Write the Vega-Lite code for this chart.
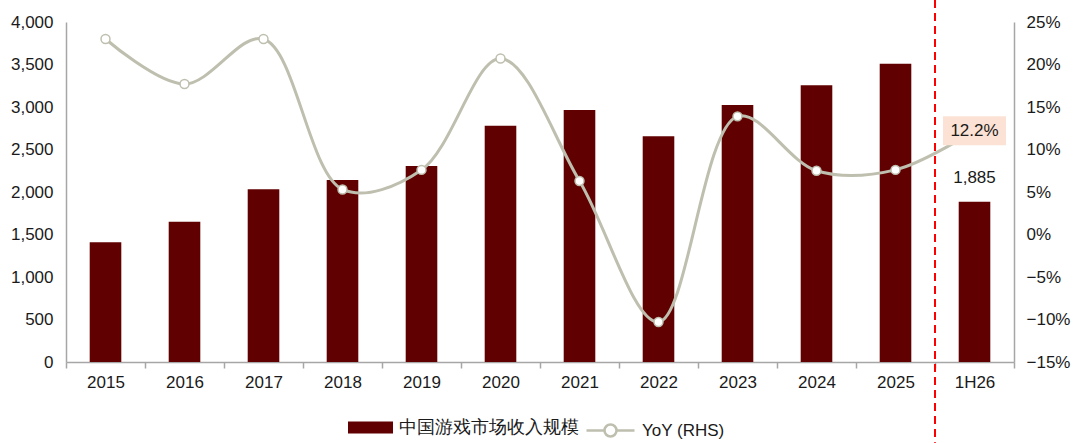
{
  "$schema": "https://vega.github.io/schema/vega-lite/v6.json",
  "width": 948,
  "height": 340,
  "autosize": "none",
  "padding": {"left": 66, "top": 22, "right": 66, "bottom": 81},
  "background": "white",
  "config": {
    "font": "Liberation Sans",
    "view": {"stroke": null},
    "axis": {
      "labelFont": "Liberation Sans",
      "labelFontSize": 17,
      "labelColor": "#1a1a1a",
      "domainColor": "#a6a6a6",
      "domainWidth": 1.5,
      "tickColor": "#a6a6a6",
      "tickWidth": 1.5,
      "grid": false,
      "title": null
    },
    "legend": {
      "labelFont": "Liberation Sans",
      "labelFontSize": 17,
      "labelColor": "#1a1a1a",
      "labelLimit": 400
    }
  },
  "datasets": {
    "games": [
      {"period": "2015", "revenue": 1408, "yoy": 0.230},
      {"period": "2016", "revenue": 1651, "yoy": 0.177},
      {"period": "2017", "revenue": 2031, "yoy": 0.230},
      {"period": "2018", "revenue": 2141, "yoy": 0.053},
      {"period": "2019", "revenue": 2306, "yoy": 0.076},
      {"period": "2020", "revenue": 2780, "yoy": 0.207},
      {"period": "2021", "revenue": 2965, "yoy": 0.063},
      {"period": "2022", "revenue": 2655, "yoy": -0.103},
      {"period": "2023", "revenue": 3024, "yoy": 0.139},
      {"period": "2024", "revenue": 3255, "yoy": 0.075},
      {"period": "2025", "revenue": 3510, "yoy": 0.076},
      {"period": "1H26", "revenue": 1885, "yoy": 0.122}
    ]
  },
  "data": {"name": "games"},
  "encoding": {
    "x": {
      "field": "period",
      "type": "ordinal",
      "sort": null,
      "scale": {"paddingInner": 0, "paddingOuter": 0},
      "axis": {
        "labelAngle": 0,
        "tickBand": "extent",
        "tickSize": 6,
        "labelPadding": 6
      }
    }
  },
  "layer": [
    {
      "encoding": {
        "y": {
          "field": "revenue",
          "type": "quantitative",
          "scale": {"domain": [0, 4000], "nice": false},
          "axis": {
            "orient": "left",
            "values": [0, 500, 1000, 1500, 2000, 2500, 3000, 3500, 4000],
            "format": ",.0f",
            "ticks": false,
            "labelPadding": 13
          }
        }
      },
      "layer": [
        {
          "mark": {"type": "bar", "width": {"band": 0.4}},
          "encoding": {
            "fill": {
              "datum": "中国游戏市场收入规模",
              "scale": {"range": ["#600000"]},
              "legend": {
                "title": null,
                "orient": "none",
                "legendX": 282,
                "legendY": 383,
                "symbolType": "M-1,-0.27L1,-0.27L1,0.27L-1,0.27Z",
                "symbolSize": 2025,
                "symbolStrokeWidth": 0,
                "symbolOpacity": 1,
                "labelOffset": 6,
                "labelFontSize": 18
              }
            }
          }
        },
        {
          "transform": [{"filter": "datum.period == '1H26'"}],
          "mark": {"type": "rule", "color": "#ff0000", "strokeWidth": 2, "strokeDash": [8, 5]},
          "encoding": {
            "x": {"field": "period", "type": "ordinal", "sort": null, "bandPosition": 0},
            "y": {"datum": 4260},
            "y2": {"datum": -950}
          }
        },
        {
          "transform": [{"filter": "datum.period == '1H26'"}],
          "mark": {"type": "text", "fontSize": 17, "color": "#1a1a1a", "baseline": "middle", "dy": -24},
          "encoding": {
            "text": {"field": "revenue", "type": "quantitative", "format": ",.0f"}
          }
        },
        {
          "data": {"values": [{"label": "(亿元)"}]},
          "mark": {"type": "text", "fontSize": 17, "color": "#1a1a1a", "align": "left", "baseline": "middle", "dx": -3},
          "encoding": {
            "x": {"datum": "2015"},
            "y": {"datum": 3941},
            "text": {"field": "label"}
          }
        }
      ]
    },
    {
      "encoding": {
        "y": {
          "field": "yoy",
          "type": "quantitative",
          "scale": {"domain": [-0.15, 0.25], "nice": false},
          "axis": {
            "orient": "right",
            "values": [-0.15, -0.1, -0.05, 0, 0.05, 0.1, 0.15, 0.2, 0.25],
            "format": ".0%",
            "ticks": false,
            "labelPadding": 12
          }
        }
      },
      "layer": [
        {
          "mark": {"type": "line", "interpolate": "catmull-rom", "strokeWidth": 3},
          "encoding": {
            "stroke": {
              "datum": "YoY (RHS)",
              "scale": {"range": ["#bfbfaf"]},
              "legend": {
                "title": null,
                "orient": "none",
                "legendX": 519,
                "legendY": 383,
                "symbolType": "M-1,0L-0.25,0M0.25,0L1,0M0.25,0A0.25,0.25 0 1 1 -0.25,0A0.25,0.25 0 1 1 0.25,0Z",
                "symbolSize": 2304,
                "symbolFillColor": "white",
                "symbolStrokeWidth": 2.5,
                "labelOffset": 6
              }
            }
          }
        },
        {
          "transform": [{"filter": "datum.period != '1H26'"}],
          "mark": {"type": "circle", "size": 80, "fill": "white", "stroke": "#bfbfaf", "strokeWidth": 1.5, "opacity": 1}
        },
        {
          "transform": [{"filter": "datum.period == '1H26'"}],
          "mark": {"type": "point", "shape": "M-1,-0.46L1,-0.46L1,0.46L-1,0.46Z", "size": 3969, "filled": true, "fill": "#fbe2d4", "strokeWidth": 0, "opacity": 1}
        },
        {
          "transform": [{"filter": "datum.period == '1H26'"}],
          "mark": {"type": "text", "fontSize": 17, "color": "#1a1a1a", "baseline": "middle"},
          "encoding": {
            "text": {"field": "yoy", "type": "quantitative", "format": ".1%"}
          }
        }
      ]
    }
  ],
  "resolve": {"scale": {"y": "independent"}}
}
